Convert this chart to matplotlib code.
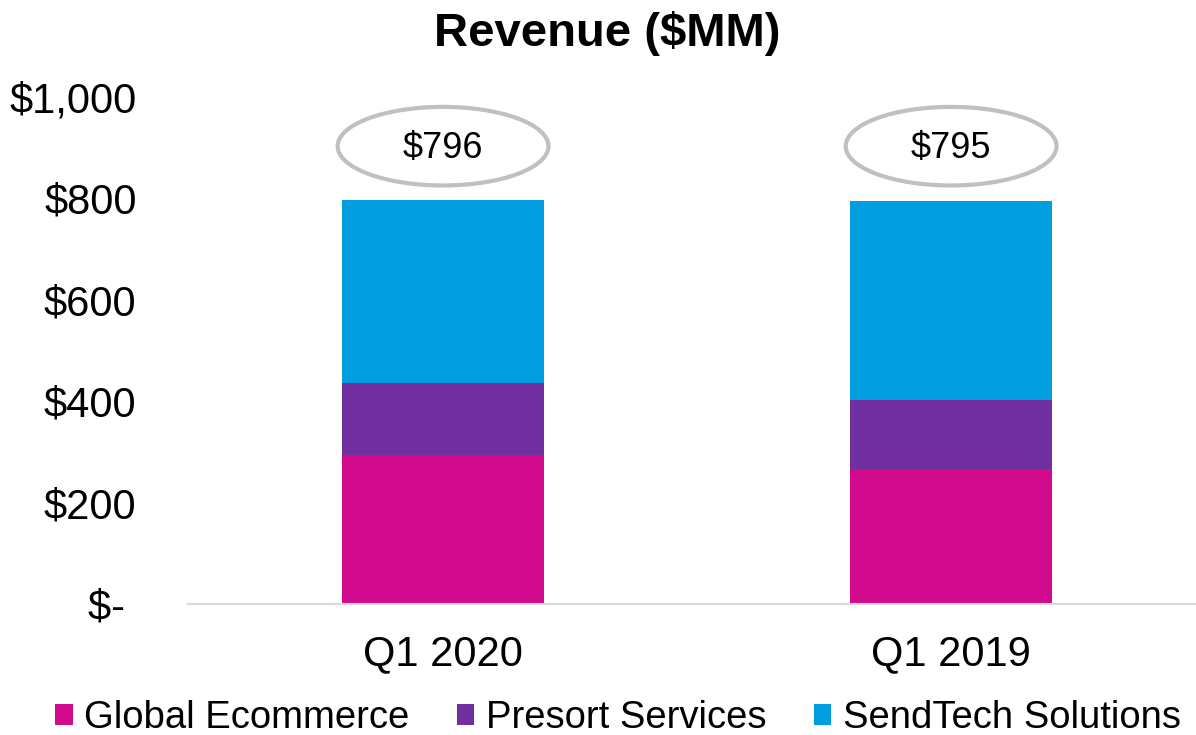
import matplotlib
matplotlib.use("Agg")
from matplotlib import pyplot as plt
from matplotlib.patches import Ellipse

plt.rcParams['font.family'] = ['Liberation Sans', 'DejaVu Sans']

quarters = ["Q1 2020", "Q1 2019"]
global_ecommerce = [293, 267]
presort_services = [142, 135]
sendtech_solutions = [361, 393]
totals = ["$796", "$795"]
y_ticks = [0, 200, 400, 600, 800, 1000]
y_labels = ["$- ", "$200", "$400", "$600", "$800", "$1,000"]

colors = ["#D20A8C", "#7030A0", "#009DDF"]

fig = plt.figure(figsize=(11.96, 7.35), dpi=100)
ax = fig.add_axes([188 / 1196, 1 - 604 / 735, (1196 - 188) / 1196, (604 - 97) / 735])

x = list(range(len(quarters)))
w = 0.398
bottom = [0] * len(quarters)
series = [("Global Ecommerce", global_ecommerce),
          ("Presort Services", presort_services),
          ("SendTech Solutions", sendtech_solutions)]
for (name, vals), c in zip(series, colors):
    ax.bar(x, vals, w, bottom=bottom, color=c, label=name, zorder=2)
    bottom = [b + v for b, v in zip(bottom, vals)]

# total bubbles above the bars
for xi, lab in zip(x, totals):
    ax.add_patch(Ellipse((xi, 903), 0.415, 155, fill=False, edgecolor="#C0C0C0",
                         lw=3, clip_on=False, zorder=3))
    ax.text(xi, 898, lab, ha="center", va="center", fontsize=26)

ax.set_xlim(-0.502, 1.482)
ax.set_ylim(0, 1000)
ax.set_yticks(y_ticks)
ax.set_yticklabels(y_labels)
ax.set_xticks(x)
ax.set_xticklabels(quarters)
ax.tick_params(axis="y", length=0, pad=37, labelsize=30)
ax.tick_params(axis="x", length=0, pad=22, labelsize=30)
for s in ["top", "right", "left"]:
    ax.spines[s].set_visible(False)
ax.spines["bottom"].set_color("#D9D9D9")
ax.spines["bottom"].set_linewidth(1.5)

fig.text(607 / 1196, 1 - 33 / 735, "Revenue ($MM)", ha="center", va="center",
         fontsize=34, fontweight="bold")

fig.legend(loc="center", bbox_to_anchor=(618 / 1196, 1 - 718 / 735), ncol=3, frameon=False,
           fontsize=27.5, handlelength=0.45, handleheight=0.45, handletextpad=0.3,
           columnspacing=1.25, borderaxespad=0)

fig.savefig("out.png", dpi=100)
